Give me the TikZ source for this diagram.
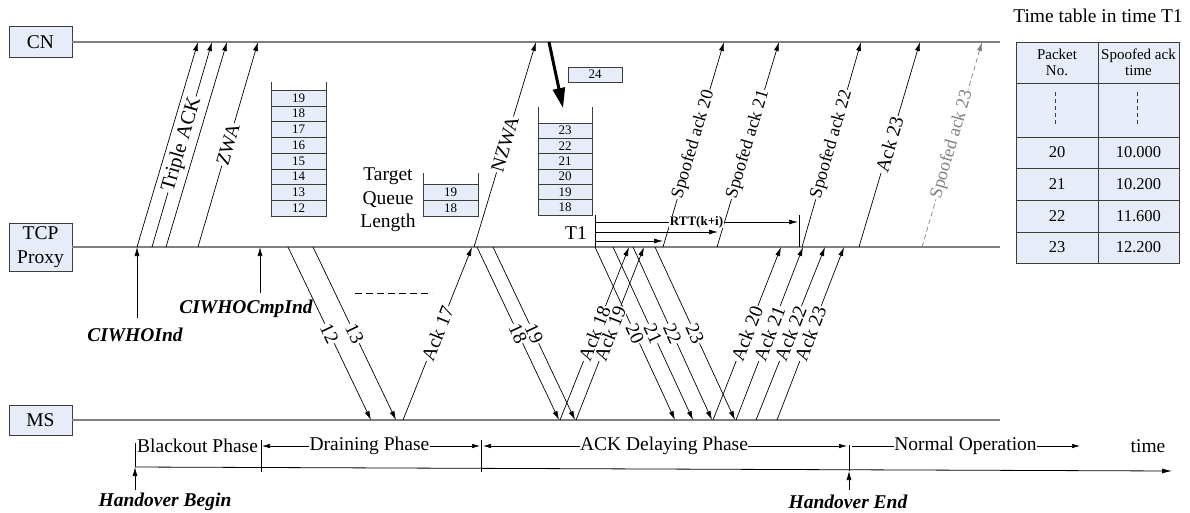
\documentclass[tikz,border=0pt]{standalone}
\usepackage{fontspec}
\setmainfont{Liberation Serif}
\usetikzlibrary{arrows.meta}
\definecolor{boxfill}{RGB}{230,236,248}
\definecolor{edgec}{RGB}{60,60,60}
\definecolor{tlc}{RGB}{128,128,128}
\begin{document}
\begin{tikzpicture}[x=1pt,y=-1pt,
  font=\fontsize{19.5}{24}\selectfont,
  ent/.style={draw=edgec, fill=boxfill, minimum width=63pt, inner sep=0pt, align=center},
  tline/.style={draw=tlc, line width=1.2pt},
  msg/.style={-{Latex[length=9pt,width=5pt]}, line width=0.7pt},
  lbl/.style={sloped, fill=white, inner sep=1pt},
  slbl/.style={sloped, fill=white, inner sep=1pt, font=\fontsize{18}{20}\selectfont},
  cell/.style={draw=edgec, fill=boxfill, inner sep=0pt, font=\fontsize{13}{15}\selectfont},
  wall/.style={draw=edgec, line width=0.8pt},
  ph/.style={-{Latex[length=8pt,width=4.5pt]}, line width=0.7pt},
  bi/.style={font=\fontsize{19.5}{22}\selectfont\bfseries\itshape, inner sep=0pt},
  tbl/.style={inner sep=0pt, font=\fontsize{16.5}{19}\selectfont},
  tblh/.style={inner sep=0pt, align=center, font=\fontsize{15}{16}\selectfont}]
\useasboundingbox (0,0) rectangle (1190,512);

% entities and timelines
\node[ent, minimum height=31pt] (cn) at (40.5,42) {CN};
\node[ent, minimum height=48pt] (tcp) at (40.5,247) {TCP\\Proxy};
\node[ent, minimum height=30pt] (ms) at (40.5,420) {MS};
\coordinate (cnE) at (1000,42);
\coordinate (tcpE) at (1000,247);
\coordinate (msE) at (1000,420);
\draw[tline] (cn.east) -- (cnE);
\draw[tline] (tcp.east) -- (tcpE);
\draw[tline] (ms.east) -- (msE);

% proxy -> CN
\foreach \i/\a/\b in {1/137/198, 2/152/212, 3/166/227, 4/198/258, 5/474/536,
                      6/663/724, 7/717/779, 8/802/861, 9/859/920, 10/922/982}{
  \coordinate (u\i a) at (\a,247);
  \coordinate (u\i b) at (\b,42);
}
\draw[msg] (u1a) -- (u1b);
\draw[msg] (u2a) -- node[lbl, font=\fontsize{20.5}{22}\selectfont]{Triple ACK} (u2b);
\draw[msg] (u3a) -- (u3b);
\draw[msg] (u4a) -- node[lbl]{ZWA} (u4b);
\draw[msg] (u5a) -- node[lbl]{NZWA} (u5b);
\draw[msg] (u6a) -- node[slbl]{Spoofed ack 20} (u6b);
\draw[msg] (u7a) -- node[slbl]{Spoofed ack 21} (u7b);
\draw[msg] (u8a) -- node[slbl]{Spoofed ack 22} (u8b);
\draw[msg] (u9a) -- node[lbl]{Ack 23} (u9b);
\draw[msg, draw=tlc, dashed, dash pattern=on 5pt off 3pt] (u10a) -- node[slbl, text=tlc]{Spoofed ack 23} (u10b);

% proxy -> MS (data)
\foreach \n/\a/\b in {12/288/371, 13/313/396, 18/477/559, 19/493/575,
                      20/595/675, 21/613/693, 22/633/712, 23/655/735}{
  \coordinate (d\n a) at (\a,247);
  \coordinate (d\n b) at (\b,420);
  \draw[msg] (d\n a) -- node[lbl]{\n} (d\n b);
}

% MS -> proxy (acks)
\foreach \n/\a/\b in {17/403/472, 18/560/629, 19/576/644, 20/713/781,
                      21/736/803, 22/756/825, 23/777/844}{
  \coordinate (a\n a) at (\a,420);
  \coordinate (a\n b) at (\b,247);
  \draw[msg] (a\n a) -- node[lbl]{Ack \n} (a\n b);
}

% indications
\node[bi] (ciw) at (135,335) {CIWHOInd};
\coordinate (ciwT) at (137,247);
\coordinate (ciwB) at (137,318);
\draw[msg] (ciwB) -- (ciwT);
\node[bi] (ciwc) at (246,309) {CIWHOCmpInd};
\coordinate (ciwcT) at (260,247);
\coordinate (ciwcB) at (260,293);
\draw[msg] (ciwcB) -- (ciwcT);
\coordinate (dl1) at (355,293);
\coordinate (dl2) at (432,293);
\draw[dashed, dash pattern=on 7pt off 4pt, line width=0.7pt] (dl1) -- (dl2);

% left queue
\draw[wall] (271,82) -- (271,216);
\draw[wall] (326,82) -- (326,216);
\foreach \n [count=\k from 0] in {19,18,...,12}{
  \node[cell, minimum width=55pt, minimum height=15.75pt] (qa\n) at (298.5,97.875+15.75*\k) {\n};
}

% target queue
\node[align=center, inner sep=0pt, font=\fontsize{19.5}{23.5}\selectfont] (tql) at (388,200) {Target\\Queue\\Length};
\draw[wall] (423,173) -- (423,216);
\draw[wall] (478,173) -- (478,216);
\node[cell, minimum width=55pt, minimum height=16pt] (qt19) at (450.5,192) {19};
\node[cell, minimum width=55pt, minimum height=16pt] (qt18) at (450.5,208) {18};

% right queue
\draw[wall] (538,107) -- (538,215);
\draw[wall] (592,107) -- (592,215);
\foreach \n [count=\k from 0] in {23,22,...,18}{
  \node[cell, minimum width=54pt, minimum height=15.33pt] (qb\n) at (565,130.67+15.33*\k) {\n};
}
\node[cell, minimum width=54pt, minimum height=15pt] (q24) at (595,74.5) {24};
\coordinate (thA) at (549,42);
\coordinate (thB) at (563,108);
\draw[line width=3pt, -{Triangle[length=20pt,width=12pt]}] (thA) -- (thB);

% T1 and RTT
\node[inner sep=0pt] (t1) at (576,233) {T1};
\coordinate (t1top) at (595,215);
\coordinate (t1bot) at (595,247);
\draw[line width=0.7pt] (t1top) -- (t1bot);
\coordinate (r1) at (595,222);
\coordinate (r1e) at (798,222);
\coordinate (r2) at (595,232);
\coordinate (r2e) at (718,232);
\coordinate (r3) at (595,241);
\coordinate (r3e) at (663,241);
\draw[msg] (r1) -- node[fill=white, inner sep=0.5pt, font=\fontsize{13}{15}\selectfont\bfseries, pos=0.5]{RTT(k+i)} (r1e);
\draw[msg] (r2) -- (r2e);
\draw[msg] (r3) -- (r3e);
\coordinate (tkA) at (799,215);
\coordinate (tkB) at (799,247);
\draw[line width=0.7pt] (tkA) -- (tkB);

% time table
\node[inner sep=0pt] (ttl) at (1098,16) {Time table in time T1};
\draw[draw=edgec, fill=boxfill, line width=0.8pt] (1016,42) rectangle (1179,263);
\foreach \y in {83,137,168,200,232}{\draw[draw=edgec, line width=0.8pt] (1016,\y) -- (1179,\y);}
\draw[draw=edgec, line width=0.8pt] (1098,42) -- (1098,263);
\node[tblh] (h1) at (1057,62) {Packet\\No.};
\node[tblh] (h2) at (1138.5,62) {Spoofed ack\\time};
\draw[dashed, dash pattern=on 4pt off 3pt, draw=edgec] (1055,92) -- (1055,125);
\draw[dashed, dash pattern=on 4pt off 3pt, draw=edgec] (1137,92) -- (1137,125);
\foreach \p/\t/\y in {20/10.000/152.5, 21/10.200/184, 22/11.600/216, 23/12.200/247.5}{
  \node[tbl] (tp\p) at (1057,\y) {\p};
  \node[tbl] (tt\p) at (1138.5,\y) {\t};
}

% phases
\node[anchor=west, inner sep=0pt] (blk) at (137,446) {Blackout Phase};
\node[inner sep=0pt] (drn) at (369.5,446) {Draining Phase};
\node[inner sep=0pt] (ackd) at (664,446) {ACK Delaying Phase};
\node[inner sep=0pt] (norm) at (965.5,446) {Normal Operation};
\node[inner sep=0pt] (tm) at (1148,446) {time};
\coordinate (p1) at (262,446);
\coordinate (p2) at (480,446);
\coordinate (p3) at (483,446);
\coordinate (p4) at (847,446);
\coordinate (p5) at (852,446);
\coordinate (p6) at (1080,446);
\draw[ph] (drn.west) -- (p1);
\draw[ph] (drn.east) -- (p2);
\draw[ph] (ackd.west) -- (p3);
\draw[ph] (ackd.east) -- (p4);
\draw[line width=0.7pt] (p5) -- (norm.west);
\draw[ph] (norm.east) -- (p6);

% ticks and time axis
\coordinate (ax0) at (135,467);
\coordinate (ax1) at (1172,471);
\draw[-{Latex[length=10pt,width=5pt]}, line width=0.8pt] (ax0) -- (ax1);
\draw[line width=0.7pt] (135,443) -- (135,467);
\draw[line width=0.7pt] (261,440) -- (261,472);
\draw[line width=0.7pt] (481,440) -- (481,472);
\draw[line width=0.7pt] (849,445) -- (849,471);
\node[bi] (hb) at (165,502) {Handover Begin};
\node[bi] (he) at (848,502) {Handover End};
\coordinate (hbA) at (135,490);
\coordinate (hbB) at (135,467);
\coordinate (heA) at (849,490);
\coordinate (heB) at (849,471);
\draw[msg] (hbA) -- (hbB);
\draw[msg] (heA) -- (heB);
\end{tikzpicture}
\end{document}
